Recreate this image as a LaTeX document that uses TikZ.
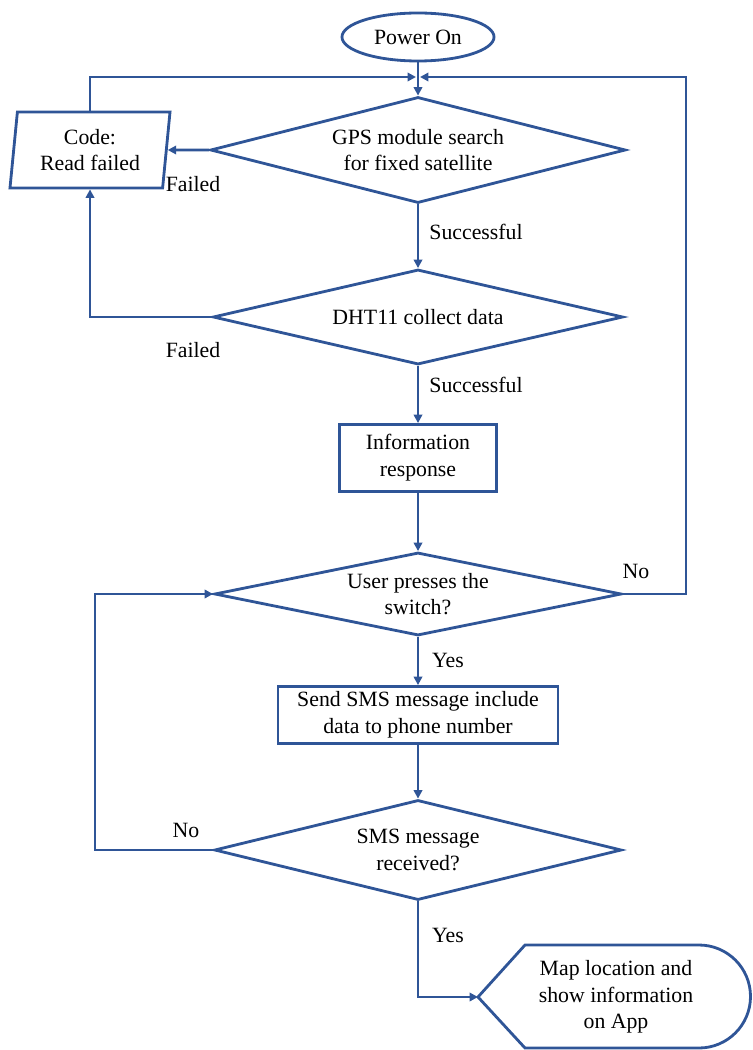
\documentclass[tikz,border=0pt]{standalone}
\usepackage{fontspec}
\setmainfont{Liberation Serif}
\usetikzlibrary{shapes.geometric,arrows.meta,positioning}
\definecolor{flowblue}{RGB}{47,85,151}
\tikzset{
  flow/.style={draw=flowblue, line width=2pt},
  decision/.style={flow, diamond, aspect=4.5, inner sep=0pt, align=center},
  process/.style={flow, rectangle, inner sep=0pt, align=center},
  arr/.style={flowblue, line width=2pt, -{Triangle[length=6pt,width=6pt]}},
}
\begin{document}
\begin{tikzpicture}[x=0.025cm, y=-0.025cm, font=\fontsize{15.5}{19}\selectfont]
\useasboundingbox (0,0) rectangle (753,1050);

\coordinate (jl) at (416,77);
\coordinate (jr) at (420,77);
\coordinate (rr) at (686,77);
\coordinate (ll) at (95,850);
\coordinate (appl) at (478,997);

\node[flow, ellipse, minimum width=3.8cm, minimum height=1.2cm, inner sep=0pt] (power) at (418,37) {Power On};
\node[decision, minimum width=10.375cm, minimum height=2.65cm] (gps) at (418,150) {GPS module search\\for fixed satellite};
\node[flow, trapezium, trapezium left angle=80, trapezium right angle=100, trapezium stretches body,
      minimum width=4cm, minimum height=1.9cm, inner sep=0pt, align=center] (code) at (90,150) {Code:\\Read failed};
\node[decision, minimum width=10.25cm, minimum height=2.375cm] (dht) at (418,317) {DHT11 collect data};
\node[process, minimum width=3.925cm, minimum height=1.675cm] (info) at (418,458) {Information\\response};
\node[decision, minimum width=10.175cm, minimum height=2.075cm] (user) at (418,594) {User presses the\\switch?};
\node[process, minimum width=7cm, minimum height=1.425cm] (sms) at (418,715) {Send SMS message include\\data to phone number};
\node[decision, minimum width=10.175cm, minimum height=2.5cm] (recv) at (418,850) {SMS message\\received?};
\node[align=center, inner sep=0pt] (app) at (616,997) {Map location and\\show information\\on App};
\draw[flow] (appl) -- (525,945) -- (699,945) arc[start angle=-90, end angle=90, radius=51.5] -- (525,1048) -- cycle;

% labels
\node at (193,184) {Failed};
\node at (193,350) {Failed};
\node at (476,232) {Successful};
\node at (476,385) {Successful};
\node at (636,571) {No};
\node at (186,830) {No};
\node at (448,660) {Yes};
\node at (448,935) {Yes};

\draw[arr] (power) -- (gps);
\draw[arr] (gps) -- (code);
\draw[arr] (code.north) |- (jl);
\draw[arr] (gps) -- (dht);
\draw[arr] (dht.west) -| (code.south);
\draw[arr] (dht) -- (info);
\draw[arr] (info) -- (user);
\draw[arr] (user.east) -| (rr) -- (jr);
\draw[arr] (user) -- (sms);
\draw[arr] (sms) -- (recv);
\draw[arr] (recv.west) -- (ll) |- (user.west);
\draw[arr] (recv.south) |- (appl);
\end{tikzpicture}
\end{document}
